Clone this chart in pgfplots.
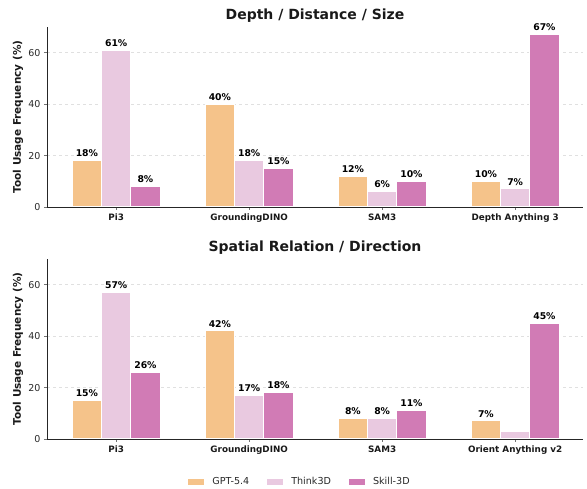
\documentclass[border=0pt]{standalone}
\usepackage{fontspec}
\setmainfont{DejaVu Sans}
\usepackage{pgfplots}
\pgfplotsset{compat=1.18}

\definecolor{cgpt}{RGB}{245,195,138}
\definecolor{cthink}{RGB}{233,201,224}
\definecolor{cskill}{RGB}{209,123,181}
\definecolor{txt}{RGB}{40,40,40}

\pgfplotsset{
    toolaxis/.style={
        scale only axis,
        width=536pt, height=180pt,
        xmin=-0.52, xmax=3.51,
        ymin=0, ymax=70,
        enlargelimits=false,
        clip=false,
        axis x line*=bottom, axis y line*=left,
        axis line style={-, line width=0.9pt, color=black!85},
        ytick={0,20,40,60},
        xtick={0,1,2,3},
        tick align=outside,
        major tick length=3pt,
        tick style={line width=0.8pt, color=black!55},
        ymajorgrids=true,
        grid style={dashed, line width=0.5pt, color=black!12},
        /pgf/number format/assume math mode=true,
        yticklabel style={font=\fontsize{9.5}{11}\selectfont, color=txt},
        xticklabel style={font=\fontsize{8.8}{10}\selectfont\bfseries, color=black!90},
        ylabel={\bfseries Tool Usage Frequency (\%)},
        ylabel style={font=\fontsize{10.5}{12}\selectfont, color=black!90,
            at={(axis description cs:-0.054,0.5)}, rotate=0, anchor=center},
        title style={font=\fontsize{14}{16}\selectfont\bfseries, color=black!90, at={(0.5,1)}, anchor=south, yshift=-5pt},
        ybar, bar width=0.22,
        every axis plot/.append style={draw=white, line width=1pt},
        point meta=explicit symbolic,
        nodes near coords={\fontsize{9.3}{11}\selectfont\bfseries\pgfplotspointmeta},
        every node near coords/.append style={color=txt, anchor=south, inner sep=1pt, yshift=2.5pt},
    }
}

\begin{document}
\begin{tikzpicture}
\path[use as bounding box] (0pt,0pt) rectangle (587pt,489pt);

% top panel
\begin{axis}[toolaxis, at={(47pt,282pt)}, anchor=south west,
    title={Depth / Distance / Size},
    xticklabels={Pi3, GroundingDINO, SAM3, Depth Anything 3}]
\addplot[fill=cgpt, bar shift=-0.22] coordinates {
    (0,18) [18\%] (1,40) [40\%] (2,12) [12\%] (3,10) [10\%]
};
\addplot[fill=cthink, bar shift=0] coordinates {
    (0,61) [61\%] (1,18) [18\%] (2,6) [6\%] (3,7) [7\%]
};
\addplot[fill=cskill, bar shift=0.22] coordinates {
    (0,8) [8\%] (1,15) [15\%] (2,10) [10\%] (3,67) [67\%]
};
\end{axis}

% bottom panel
\begin{axis}[toolaxis, at={(47pt,50pt)}, anchor=south west,
    title={Spatial Relation / Direction},
    xticklabels={Pi3, GroundingDINO, SAM3, Orient Anything v2},
    legend columns=3,
    legend style={at={(0.472,-0.239)}, anchor=center, draw=none, fill=none,
        font=\fontsize{9.6}{11}\selectfont, text=txt,
        /tikz/every odd column/.append style={column sep=6pt},
        /tikz/every even column/.append style={column sep=16pt}},
    legend image code/.code={\fill[#1, draw=none] (0pt,-2.5pt) rectangle (16pt,3pt);}]
\addplot[fill=cgpt, bar shift=-0.22] coordinates {
    (0,15) [15\%] (1,42) [42\%] (2,8) [8\%] (3,7) [7\%]
};
\addlegendentry{GPT-5.4}
\addplot[fill=cthink, bar shift=0] coordinates {
    (0,57) [57\%] (1,17) [17\%] (2,8) [8\%] (3,3) []
};
\addlegendentry{Think3D}
\addplot[fill=cskill, bar shift=0.22] coordinates {
    (0,26) [26\%] (1,18) [18\%] (2,11) [11\%] (3,45) [45\%]
};
\addlegendentry{Skill-3D}
\end{axis}
\end{tikzpicture}
\end{document}
